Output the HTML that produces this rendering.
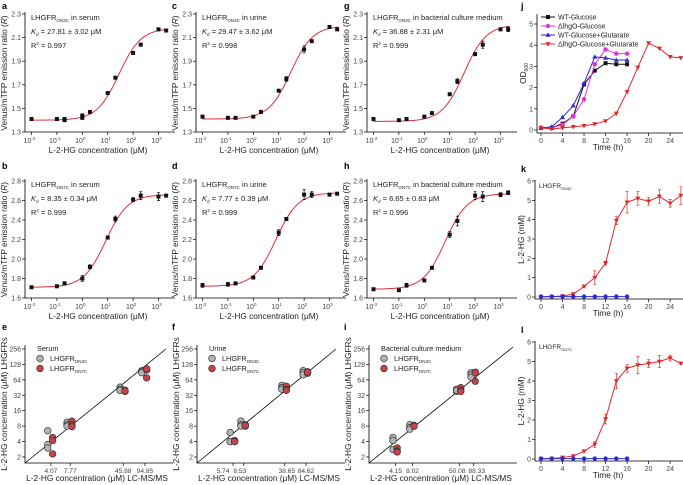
<!DOCTYPE html>
<html><head><meta charset="utf-8"><style>
html,body{margin:0;padding:0;background:#fff;}
svg{display:block;font-family:"Liberation Sans",Arial,sans-serif;}
</style></head><body>
<svg id="fig" width="683" height="485" viewBox="0 0 683 485"></svg>
<script>
// ---------- data: dose-response panels ----------
const concA=[0.01,0.1,0.2,0.2,1,1,2,10,20,100,200,1000,2000];
const ratioA=[1.41,1.41,1.41,1.40,1.44,1.42,1.47,1.63,1.76,1.97,2.04,2.17,2.16];
const errA=[0.01,0.01,0.01,0.01,0.01,0.01,0.01,0.01,0.01,0.01,0.01,0.01,0.01];
const concStd=[0.01,0.1,0.2,1,2,10,20,100,200,1000,2000];
const ratioB=[1.71,1.72,1.75,1.80,1.92,2.22,2.41,2.61,2.65,2.64,2.65];
const errB=[0.01,0.01,0.01,0.03,0.02,0.01,0.03,0.02,0.04,0.04,0.01];
const ratioC=[1.43,1.42,1.42,1.43,1.47,1.65,1.75,2.00,2.07,2.19,2.17];
const errC=[0.01,0.01,0.01,0.01,0.01,0.01,0.02,0.03,0.01,0.01,0.01];
const ratioD=[1.73,1.74,1.75,1.81,1.91,2.27,2.41,2.66,2.66,2.66,2.67];
const errD=[0.02,0.02,0.01,0.01,0.01,0.03,0.01,0.05,0.03,0.01,0.01];
const ratioG=[1.41,1.40,1.41,1.43,1.46,1.62,1.73,1.96,2.04,2.17,2.17];
const errG=[0.01,0.01,0.01,0.01,0.01,0.01,0.02,0.01,0.03,0.01,0.02];
const ratioH=[1.69,1.68,1.73,1.78,1.91,2.25,2.39,2.65,2.64,2.66,2.68];
const errH=[0.01,0.01,0.02,0.01,0.01,0.03,0.05,0.04,0.05,0.02,0.02];
const fitMin=[1.40,1.71,1.41,1.72,1.39,1.69];
const fitMax=[2.18,2.66,2.20,2.68,2.21,2.67];
const fitKd=[27.81,8.35,29.47,7.77,36.88,6.65];
const xTickExp=[-2,-1,0,1,2,3];
const yTicks3C=[1.3,1.5,1.7,1.9,2.1,2.3];
const yTicks7C=[1.6,1.8,2.0,2.2,2.4,2.6,2.8];
// ---------- data: scatter panels ----------
const refE=[4.07,7.77,45.88,94.85];
const greyE=[[6.5,3.5,3.0],[9.5,8.5,8.0],[46,42,40],[96,92,88]];
const redE=[[4.8,4.2,2.3],[10,8.5,7.8],[40,38,39],[100,105,70]];
const refF=[5.74,8.53,38.65,84.62];
const greyF=[[6,4,4],[10,8.5,8],[50,45,42],[96,88,80]];
const redF=[[4.2,4,4],[8.5,8,8.2],[48,42,40],[92,86,90]];
const refI=[4.15,8.02,50.08,88.33];
const greyI=[[4.8,4.2,2.8],[8.5,7.5,7.0],[42,38,40],[88,80,72]];
const redI=[[3.0,2.6,2.5],[8,8.3,8],[45,40,38],[90,60,88]];
const yTicksLog=[2,4,8,16,32,64,128,256];
// ---------- data: time-course panels ----------
const timeShort=[0,2,4,6,8,10,12,14,16];
const timeLong=[0,2,4,6,8,10,12,14,16,18,20,22,24,26];
const odWT=[0.1,0.1,0.3,0.65,2.15,2.8,3.15,3.1,3.1];
const odHgo=[0.1,0.1,0.25,0.65,1.45,3.1,3.8,3.6,3.6];
const odWTGlu=[0.1,0.15,0.6,1.15,2.2,3.45,3.4,3.3,3.3];
const odHgoGlu=[0.1,0.05,0.1,0.15,0.2,0.28,0.42,0.78,1.8,2.95,4.1,3.85,3.45,3.4];
const hgK=[0,0.02,0.05,0.15,0.55,1.0,1.75,3.95,4.9,5.1,4.95,5.2,4.85,5.25];
const hgKerr=[0.02,0.02,0.02,0.05,0.05,0.35,0.1,0.2,0.55,0.35,0.2,0.35,0.2,0.45];
const hgKctl=[0.02,0.02,0.02,0.02,0.02,0.02,0.02,0.02,0.02];
const hgL=[0,0.02,0.08,0.15,0.4,0.75,2.05,4.0,4.65,4.82,4.9,5.0,5.18,4.9];
const hgLerr=[0.02,0.02,0.02,0.05,0.05,0.15,0.25,0.4,0.2,0.45,0.2,0.3,0.15,0.05];
const hgLctl=[0.02,0.02,0.02,0.02,0.02,0.02,0.02,0.02,0.02];
const timeTicks=[0,4,8,12,16,20,24];

const NS='http://www.w3.org/2000/svg';
const svg=document.getElementById('fig');
function mk(tag,attrs,parent){const e=document.createElementNS(NS,tag);for(const k in attrs)e.setAttribute(k,attrs[k]);(parent||svg).appendChild(e);return e;}
function txt(x,y,s,size,anchor,parent,extra){const t=mk('text',Object.assign({x:x,y:y,'font-size':size,'text-anchor':anchor||'start',fill:'#222'},extra||{}),parent);t.textContent=s;return t;}
function tsp(t,s,attrs){const e=mk('tspan',attrs||{},t);e.textContent=s;return e;}

function panelLetter(x,y,s){
  const t=txt(x,y,s,9,'start',svg,{'font-weight':'bold',fill:'#000'});
  
  
}

function drawDose(p,xs,ys,es,fi){
  const g=mk('g',{});
  
  
  const xOf=v=>p.x0+6.5+(Math.log10(v)+2)*25.4;
  const yOf=v=>p.bot-(v-p.ymin)/(p.ymax-p.ymin)*(p.bot-p.top);
  const ax=mk('path',{d:`M${p.x0},${p.top-2}V${p.bot}H${p.x0+150}`,stroke:'#000','stroke-width':0.8,fill:'none'},g);
  
  
  p.yt.forEach(v=>{const y=yOf(v);
    const tk=mk('line',{x1:p.x0-3,x2:p.x0,y1:y,y2:y,stroke:'#000','stroke-width':0.7},g);
    
    
    const lb=txt(p.x0-4,y+2.5,v.toFixed(1),7,'end',g,{fill:'#444'});
    
    
  });
  xTickExp.forEach(k=>{const x=xOf(Math.pow(10,k));
    const tk=mk('line',{x1:x,x2:x,y1:p.bot,y2:p.bot+3,stroke:'#000','stroke-width':0.7},g);
    
    
    const lb=txt(x-2,p.bot+11,'10',7,'middle',g,{fill:'#444'});
    tsp(lb,String(k),{'font-size':4.5,dy:-3});
    
    
  });
  let d='';
  for(let i=0;i<=120;i++){const lv=-2+i*(5.35/120);const v=Math.pow(10,lv);
    const r=fitMin[fi]+(fitMax[fi]-fitMin[fi])/(1+fitKd[fi]/v);
    d+=(i?'L':'M')+xOf(v).toFixed(2)+','+yOf(r).toFixed(2);}
  const fc=mk('path',{d:d,stroke:'#e0303a','stroke-width':1,fill:'none'},g);
  
  
  xs.forEach((v,i)=>{const x=xOf(v),y=yOf(ys[i]),e=Math.abs(yOf(ys[i]+es[i])-y);
    const eb=mk('path',{d:`M${x},${y-e}V${y+e}M${x-1.5},${y-e}H${x+1.5}M${x-1.5},${y+e}H${x+1.5}`,stroke:'#000','stroke-width':0.7},g);
    
    
    const m=mk('rect',{x:x-2,y:y-2,width:4,height:4,fill:'#111'},g);
    
    
  });
  const t1=txt(p.x0+6,p.top+6,'LHGFR',7.5,'start',g);
  tsp(t1,p.sub,{'font-size':4.5,dy:2});tsp(t1,' in '+p.medium,{dy:-2});
  
  
  const t2=txt(p.x0+6,p.top+20,'K',7.5,'start',g,{'font-style':'italic'});
  tsp(t2,'d',{'font-size':4.5,dy:2});tsp(t2,' = '+p.kd+' μM',{dy:-2,'font-style':'normal'});
  
  
  const t3=txt(p.x0+6,p.top+34,'R',7.5,'start',g);
  tsp(t3,'2',{'font-size':4.5,dy:-3});tsp(t3,' = '+p.r2,{dy:3});
  
  
  const yt=txt(0,0,'Venus/mTFP emission ratio (',8.3,'middle',g,{transform:`translate(${p.x0-18},${(p.top+p.bot)/2}) rotate(-90)`});
  tsp(yt,'R',{'font-style':'italic'});tsp(yt,')');
  
  
  const xt=txt(p.x0+73,p.bot+21,'L-2-HG concentration (μM)',8.3,'middle',g);
  
  
}

drawDose({id:'a',x0:25,top:14,bot:132,ymin:1.3,ymax:2.3,yt:yTicks3C,sub:'ON3C',medium:'serum',kd:'27.81 ± 3.02',r2:'0.997'},concA,ratioA,errA,0);
drawDose({id:'b',x0:25,top:181,bot:298,ymin:1.6,ymax:2.8,yt:yTicks7C,sub:'ON7C',medium:'serum',kd:'8.35 ± 0.34',r2:'0.999'},concStd,ratioB,errB,1);
drawDose({id:'c',x0:196,top:14,bot:132,ymin:1.3,ymax:2.3,yt:yTicks3C,sub:'ON3C',medium:'urine',kd:'29.47 ± 3.62',r2:'0.998'},concStd,ratioC,errC,2);
drawDose({id:'d',x0:196,top:181,bot:298,ymin:1.6,ymax:2.8,yt:yTicks7C,sub:'ON7C',medium:'urine',kd:'7.77 ± 0.39',r2:'0.999'},concStd,ratioD,errD,3);
drawDose({id:'g',x0:367,top:14,bot:132,ymin:1.3,ymax:2.3,yt:yTicks3C,sub:'ON3C',medium:'bacterial culture medium',kd:'36.88 ± 2.31',r2:'0.999'},concStd,ratioG,errG,4);
drawDose({id:'h',x0:367,top:181,bot:298,ymin:1.6,ymax:2.8,yt:yTicks7C,sub:'ON7C',medium:'bacterial culture medium',kd:'6.65 ± 0.83',r2:'0.996'},concStd,ratioH,errH,5);

function drawScatter(p,refs,grey,red){
  const g=mk('g',{});
  
  
  const bot=463,top=345;
  const xOf=v=>p.x0+Math.log2(v/p.xmin)*p.ppo;
  const yOf=v=>457-Math.log2(v/2)*15.43;
  const ax=mk('path',{d:`M${p.x0},${top}V${bot}H${p.x0+148}`,stroke:'#000','stroke-width':0.8,fill:'none'},g);
  
  
  const dl=mk('line',{x1:p.x0,y1:bot,x2:p.x0+p.lineW,y2:p.lineTop,stroke:'#000','stroke-width':0.8},g);
  
  
  yTicksLog.forEach(v=>{const y=yOf(v);
    const tk=mk('line',{x1:p.x0-3,x2:p.x0,y1:y,y2:y,stroke:'#000','stroke-width':0.7},g);
    
    
    const lb=txt(p.x0-4,y+2.5,String(v),7,'end',g,{fill:'#444'});
    
    
  });
  refs.forEach((v,i)=>{const x=xOf(v);
    const tk=mk('line',{x1:x,x2:x,y1:bot,y2:bot+3,stroke:'#000','stroke-width':0.7},g);
    
    
    const lb=txt(x+p.labDx[i],bot+10,v.toFixed(2),6.6,'middle',g,{fill:'#444'});
    
    
    grey[i].forEach(yv=>{const c=mk('circle',{cx:xOf(v*0.9),cy:yOf(yv),r:3.3,fill:'#b4b4b4',stroke:'#333','stroke-width':0.7},g);
      
      });
    red[i].forEach(yv=>{const c=mk('circle',{cx:xOf(v*1.06),cy:yOf(yv),r:3.3,fill:'#c8424a',stroke:'#333','stroke-width':0.7},g);
      
      });
  });
  const lt=txt(p.x0+p.legX+9,351,p.title,7.3,'start',g);
  
  
  [['ON3C','#b4b4b4',361],['ON7C','#c8424a',371]].forEach(r=>{
    const c=mk('circle',{cx:p.x0+p.legX+12,cy:r[2]-2.5,r:3.3,fill:r[1],stroke:'#333','stroke-width':0.7},g);
    
    
    const t=txt(p.x0+p.legX+22,r[2],'LHGFR',7.3,'start',g);
    tsp(t,r[0],{'font-size':4.5,dy:2});
    
    
  });
  const yt=txt(0,0,'L-2-HG concentration (μM) LHGFRs',8.3,'middle',g,{transform:`translate(${p.x0-18},${(top+bot)/2}) rotate(-90)`});
  
  
  const xt=txt(p.x0+72,481,'L-2-HG concentration (μM) LC-MS/MS',8.3,'middle',g);
  
  
}
drawScatter({id:'e',x0:25,xmin:1.71,ppo:20.7,lineW:141,lineTop:349,legX:3,title:'Serum',labDx:[0,0,0,0]},refE,greyE,redE);
drawScatter({id:'f',x0:197,xmin:1.52,ppo:18.8,lineW:139,lineTop:349,legX:3,title:'Urine',labDx:[-10,-4,2,0]},refF,greyF,redF);
drawScatter({id:'i',x0:369,xmin:1.46,ppo:17.7,lineW:144,lineTop:347,legX:3,title:'Bacterial culture medium',labDx:[0,0,-2,3]},refI,greyI,redI);

function marker(g,type,x,y,col){
  let m;
  if(type==='sq') m=mk('rect',{x:x-2,y:y-2,width:4,height:4,fill:col},g);
  else if(type==='ci') m=mk('circle',{cx:x,cy:y,r:2.2,fill:col},g);
  else if(type==='up') m=mk('path',{d:`M${x},${y-2.6}L${x+2.5},${y+1.8}L${x-2.5},${y+1.8}Z`,fill:col},g);
  else m=mk('path',{d:`M${x},${y+2.6}L${x+2.5},${y-1.8}L${x-2.5},${y-1.8}Z`,fill:col},g);
  return m;
}
function drawTime(p){
  const g=mk('g',{});
  
  
  const xOf=t=>541+t*5.38;
  const yOf=v=>p.y0-v*p.ppu;
  const ax=mk('path',{d:`M${p.x0},${p.top}V${p.bot}H683`,stroke:'#000','stroke-width':0.8,fill:'none'},g);
  
  
  p.yt.forEach(v=>{const y=yOf(v);
    const tk=mk('line',{x1:p.x0-3,x2:p.x0,y1:y,y2:y,stroke:'#000','stroke-width':0.7},g);
    
    
    const lb=txt(p.x0-4,y+2.5,String(v),7,'end',g,{fill:'#444'});
    
    
  });
  timeTicks.forEach(t=>{const x=xOf(t);
    const tk=mk('line',{x1:x,x2:x,y1:p.bot,y2:p.bot+3,stroke:'#000','stroke-width':0.7},g);
    
    
    const lb=txt(x,p.bot+10,String(t),7,'middle',g,{fill:'#444'});
    
    
  });
  p.series.forEach(s=>{
    const d=s.ys.map((v,i)=>(i?'L':'M')+xOf(s.ts[i]).toFixed(2)+','+yOf(v).toFixed(2)).join('');
    const ln=mk('path',{d:d,stroke:s.col,'stroke-width':1,fill:'none'},g);
    
    
    s.ys.forEach((v,i)=>{const x=xOf(s.ts[i]),y=yOf(v);
      if(s.err){const e=s.err[i]*p.ppu;
        const eb=mk('path',{d:`M${x},${y-e}V${y+e}M${x-1.5},${y-e}H${x+1.5}M${x-1.5},${y+e}H${x+1.5}`,stroke:s.col,'stroke-width':0.7},g);
        
        }
      const m=marker(g,s.mk,x,y,s.col);
      
      
    });
  });
  if(p.label){const t=txt(p.x0+4,p.top+8,'LHGFR',6.5,'start',g);
    tsp(t,p.label,{'font-size':4,dy:2});
    
    }
  const yt=txt(0,0,p.ytitle,8.3,'middle',g,{transform:`translate(${p.x0-11},${(p.top+p.bot)/2}) rotate(-90)`});
  if(p.id==='j'){yt.textContent='OD';tsp(yt,'600',{'font-size':5,dy:2});}
  
  
  const xt=txt(608,p.bot+17,'Time (h)',8.3,'middle',g);
  
  
  return g;
}
const gj=drawTime({id:'j',x0:537,top:14,bot:133,y0:130,ppu:21.2,yt:[0,1,2,3,4,5],ytitle:'OD600',series:[
  {name:'wt-glucose',ts:timeShort,ys:odWT,col:'#111',mk:'sq'},
  {name:'hgo-glucose',ts:timeShort,ys:odHgo,col:'#e030e0',mk:'ci'},
  {name:'wt-glucose-glutarate',ts:timeShort,ys:odWTGlu,col:'#2a2ad8',mk:'up'},
  {name:'hgo-glucose-glutarate',ts:timeLong,ys:odHgoGlu,col:'#e02828',mk:'dn'}]});
[['WT-Glucose','#111','sq',17],['ΔlhgO-Glucose','#e030e0','ci',26],['WT-Glucose+Glutarate','#2a2ad8','up',35],['ΔlhgO-Glucose+Glutarate','#e02828','dn',44]].forEach(r=>{
  const l=mk('line',{x1:541,x2:555,y1:r[3],y2:r[3],stroke:r[1],'stroke-width':1},gj);
  
  
  const m=marker(gj,r[2],548,r[3],r[1]);
  
  
  const t=txt(558,r[3]+2.5,r[0],7,'start',gj);
  
  
});
drawTime({id:'k',x0:535,top:180,bot:299,y0:297,ppu:19.33,yt:[0,1,2,3,4,5,6],ytitle:'L-2-HG (mM)',label:'ON3C',series:[
  {name:'hgo-glutarate',ts:timeLong,ys:hgK,err:hgKerr,col:'#e02828',mk:'dn'},
  {name:'wt-glutarate',ts:timeShort,ys:hgKctl,col:'#2a2ad8',mk:'ci'}]});
drawTime({id:'l',x0:535,top:341,bot:461,y0:459,ppu:19.5,yt:[0,1,2,3,4,5,6],ytitle:'L-2-HG (mM)',label:'ON7C',series:[
  {name:'hgo-glutarate',ts:timeLong,ys:hgL,err:hgLerr,col:'#e02828',mk:'dn'},
  {name:'wt-glutarate',ts:timeShort,ys:hgLctl,col:'#2a2ad8',mk:'ci'}]});

[['a',2,9],['b',2,169],['e',2,330],['c',172,9],['d',172,169],['f',172,330],['g',344,9],['h',344,169],['i',344,330],['j',521,9],['k',521,172],['l',521,333]].forEach(r=>panelLetter(r[1],r[2],r[0]));
</script>
</body></html>
